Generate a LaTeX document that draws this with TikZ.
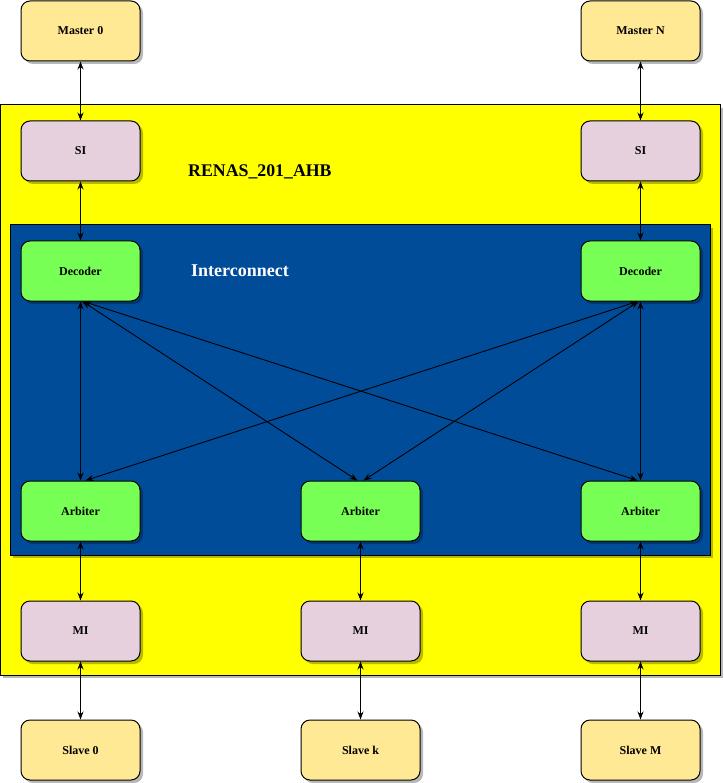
\documentclass[tikz,border=0pt]{standalone}
\usepackage{fontspec}
\setmainfont{Liberation Serif}
\usetikzlibrary{arrows.meta,shadows}
\definecolor{mastfill}{HTML}{FFE994}
\definecolor{ifill}{HTML}{E6D0DE}
\definecolor{gfill}{HTML}{77FF55}
\definecolor{ybg}{HTML}{FFFF00}
\definecolor{bbg}{HTML}{004C99}
\tikzset{
  shd/.style={drop shadow={shadow xshift=3pt,shadow yshift=-3pt,fill=black,opacity=0.28}},
  blk/.style={draw=black,line width=1pt,rounded corners=9pt,minimum width=119pt,minimum height=60pt,inner sep=0pt,shd,font=\fontsize{12}{14}\selectfont\bfseries},
  mast/.style={blk,fill=mastfill},
  ibox/.style={blk,fill=ifill},
  gbox/.style={blk,fill=gfill},
  conn/.style={line width=0.9pt,{Stealth[length=8pt,width=6pt]}-{Stealth[length=8pt,width=6pt]}},
}
\begin{document}
\begin{tikzpicture}[x=1pt,y=-1pt]
\useasboundingbox (0,0) rectangle (723,783);
\node[draw=black,line width=1pt,fill=ybg,shd,minimum width=720pt,minimum height=570pt,inner sep=0pt] (outer) at (360,390) {};
\node[draw=black,line width=1pt,fill=bbg,shd,minimum width=700pt,minimum height=330pt,inner sep=0pt] (inter) at (360,390) {};
\node[anchor=west,inner sep=0pt,font=\fontsize{17.8}{19}\selectfont\bfseries] (title) at (188,172) {RENAS\_201\_AHB};
\node[anchor=west,inner sep=0pt,text=white,font=\fontsize{18}{20}\selectfont\bfseries] (ic) at (191,271) {Interconnect};
\node[mast] (m0) at (80.5,31) {Master 0};
\node[mast] (mn) at (640.5,31) {Master N};
\node[ibox] (si0) at (80.5,151) {SI};
\node[ibox] (sin) at (640.5,151) {SI};
\node[gbox] (d0) at (80.5,271) {Decoder};
\node[gbox] (dn) at (640.5,271) {Decoder};
\node[gbox] (a0) at (80.5,511) {Arbiter};
\node[gbox] (ak) at (360.5,511) {Arbiter};
\node[gbox] (an) at (640.5,511) {Arbiter};
\node[ibox] (mi0) at (80.5,631) {MI};
\node[ibox] (mik) at (360.5,631) {MI};
\node[ibox] (min) at (640.5,631) {MI};
\node[mast] (s0) at (80.5,750) {Slave 0};
\node[mast] (sk) at (360.5,750) {Slave k};
\node[mast] (sn) at (640.5,750) {Slave M};
\draw[conn] (m0) -- (si0);
\draw[conn] (mn) -- (sin);
\draw[conn] (si0) -- (d0);
\draw[conn] (sin) -- (dn);
\draw[conn] (d0) -- (a0);
\draw[conn] (dn) -- (an);
\draw[conn] ([xshift=2pt]d0.south) -- ([xshift=-3pt]ak.north);
\draw[conn] ([xshift=3pt]d0.south) -- ([xshift=-3pt]an.north);
\draw[conn] ([xshift=-3pt]dn.south) -- ([xshift=5pt]a0.north);
\draw[conn] ([xshift=-2pt]dn.south) -- ([xshift=3pt]ak.north);
\draw[conn] (a0) -- (mi0);
\draw[conn] (ak) -- (mik);
\draw[conn] (an) -- (min);
\draw[conn] (mi0) -- (s0);
\draw[conn] (mik) -- (sk);
\draw[conn] (min) -- (sn);
\end{tikzpicture}
\end{document}
